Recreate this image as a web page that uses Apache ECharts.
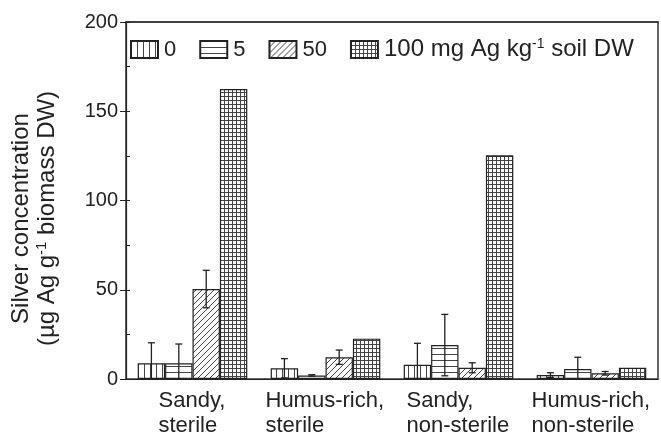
<!DOCTYPE html>
<html>
<head>
<meta charset="utf-8">
<script src="https://cdn.jsdelivr.net/npm/echarts@6/dist/echarts.min.js"></script>
<style>html,body{margin:0;padding:0;background:#fff;}#c{width:661px;height:437px;}</style>
</head>
<body>
<div id="c"></div>
<script>
const categories = ['Sandy,\nsterile', 'Humus-rich,\nsterile', 'Sandy,\nnon-sterile', 'Humus-rich,\nnon-sterile'];
const seriesNames = ['0', '5', '50', '100'];
const values0 = [8.8, 6.0, 8.0, 2.2];
const values5 = [8.8, 2.0, 19.0, 5.6];
const values50 = [50.4, 12.2, 6.3, 3.2];
const values100 = [162.5, 22.6, 125.3, 6.3];
const err0 = [11.5, 5.4, 12.0, 1.3];
const err5 = [10.8, 0.4, 17.2, 6.6];
const err50 = [10.5, 4.0, 2.8, 1.0];
const err100 = [0, 0, 0, 0];
const yTicks = [0, 50, 100, 150, 200];

const FONT = 'Liberation Sans, Arial, Helvetica, sans-serif';
const INK = '#222';

function makePattern(type, step) {
  const c = document.createElement('canvas');
  c.width = step; c.height = step;
  const g = c.getContext('2d');
  g.fillStyle = '#fff'; g.fillRect(0, 0, step, step);
  g.strokeStyle = '#444'; g.lineWidth = 1;
  g.beginPath();
  if (type === 'v' || type === 'grid') { g.moveTo(0.5, 0); g.lineTo(0.5, step); }
  if (type === 'h' || type === 'grid') { g.moveTo(0, 0.5); g.lineTo(step, 0.5); }
  if (type === 'd') {
    g.moveTo(0, step); g.lineTo(step, 0);
    g.moveTo(-1, 1); g.lineTo(1, -1);
    g.moveTo(step - 1, step + 1); g.lineTo(step + 1, step - 1);
  }
  g.stroke();
  return { image: c, repeat: 'repeat' };
}
const patterns = [makePattern('v', 6), makePattern('h', 6), makePattern('d', 6), makePattern('grid', 4)];

const allValues = [values0, values5, values50, values100];
const allErr = [err0, err5, err50, err100];
const BAR_FRAC = 0.206;

const mc = document.createElement('canvas').getContext('2d');
mc.font = '22px ' + FONT;
const rich = {};
categories.forEach((c, i) => {
  const w = Math.max(...c.split('\n').map(l => mc.measureText(l).width));
  rich['c' + i] = { width: Math.ceil(w) + 1, align: 'left', fontSize: 22, fontFamily: FONT, color: INK, lineHeight: 25 };
});

const series = [];
seriesNames.forEach((n, i) => {
  series.push({
    name: n, type: 'bar', data: allValues[i],
    barWidth: (BAR_FRAC * 100) + '%', barGap: '0%',
    itemStyle: { color: patterns[i], borderColor: INK, borderWidth: 1.2 },
    z: 2
  });
});
seriesNames.forEach((n, i) => {
  series.push({
    type: 'custom', name: 'err' + n,
    data: allValues[i].map((v, k) => [k, v, allErr[i][k]]),
    z: 5,
    renderItem: function (params, api) {
      const k = api.value(0), v = api.value(1), e = api.value(2);
      if (!e) return null;
      const band = api.size([1, 0])[0];
      const cx = api.coord([k, v])[0] + (i - 1.5) * BAR_FRAC * band;
      const yt = api.coord([k, v + e])[1];
      const lowV = v - e;
      const yb = api.coord([k, Math.max(0, lowV)])[1];
      const st = { stroke: INK, lineWidth: 1.3 };
      const cap = 3.5;
      const ch = [
        { type: 'line', shape: { x1: cx, y1: yt, x2: cx, y2: yb }, style: st },
        { type: 'line', shape: { x1: cx - cap, y1: yt, x2: cx + cap, y2: yt }, style: st }
      ];
      if (lowV > 0) ch.push({ type: 'line', shape: { x1: cx - cap, y1: yb, x2: cx + cap, y2: yb }, style: st });
      return { type: 'group', children: ch };
    }
  });
});

const chart = echarts.init(document.getElementById('c'), null, { renderer: 'canvas' });
chart.setOption({
  animation: false,
  backgroundColor: '#fff',
  textStyle: { fontFamily: FONT, color: INK },
  grid: { left: 125, right: 3, top: 22, bottom: 58, show: true, borderColor: '#333', borderWidth: 1.5, backgroundColor: 'rgba(0,0,0,0)' },
  legend: {
    data: seriesNames, left: 125, top: 32, itemWidth: 27, itemHeight: 17, itemGap: 23, icon: 'rect',
    textStyle: { fontFamily: FONT, fontSize: 22, color: INK, padding: [0, 0, 0, 1],
      rich: { sup: { fontSize: 14, fontFamily: FONT, color: INK, padding: [0, 0, 11, 0] }, t: { fontSize: 24, fontFamily: FONT, color: INK } } },
    formatter: function (n) { return n === '100' ? '{t|100 mg Ag kg}{sup|-1}{t| soil DW}' : n; }
  },
  xAxis: [{
    type: 'category', data: categories,
    axisLine: { lineStyle: { color: INK, width: 1.2 } },
    axisTick: { show: false },
    axisLabel: {
      margin: 9, interval: 0,
      formatter: function (val, idx) { return val.split('\n').map(l => '{c' + idx + '|' + l + '}').join('\n'); },
      rich: rich
    }
  }, {
    type: 'category', data: categories, position: 'top',
    axisLine: { show: true, onZero: false, lineStyle: { color: '#333', width: 1.5 } },
    axisTick: { show: false }, axisLabel: { show: false }, splitLine: { show: false }
  }],
  yAxis: [{
    type: 'value', min: yTicks[0], max: yTicks[yTicks.length - 1], interval: 50,
    name: 'Silver concentration\n(µg Ag g{sup|-1} biomass DW)',
    nameLocation: 'middle', nameRotate: 90, nameGap: 66,
    nameTextStyle: { fontFamily: FONT, fontSize: 24, color: INK, lineHeight: 26, padding: [0, 36, 0, 0],
      rich: { sup: { fontSize: 15, fontFamily: FONT, color: INK, padding: [0, 0, 11, 0] } } },
    axisLine: { show: true, lineStyle: { color: INK, width: 1.2 } },
    axisTick: { show: true, length: 6, lineStyle: { color: INK } },
    axisLabel: { fontFamily: FONT, fontSize: 20, color: INK, margin: 8 },
    splitLine: { show: false }
  }, {
    type: 'value', min: 0, max: 200, interval: 25, position: 'left',
    axisLine: { show: false }, axisLabel: { show: false }, splitLine: { show: false },
    axisTick: { show: true, inside: true, length: 4, lineStyle: { color: INK } }
  }],
  series: series
});
</script>
</body>
</html>
